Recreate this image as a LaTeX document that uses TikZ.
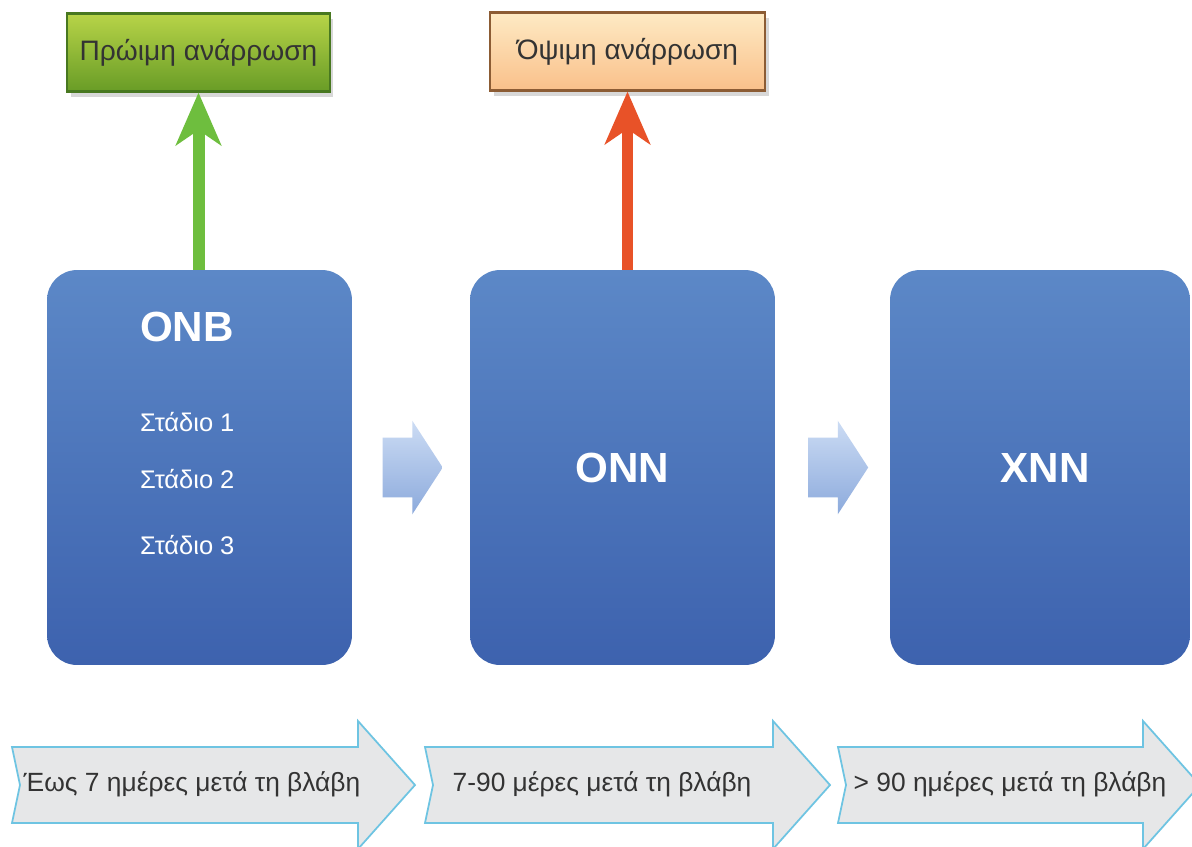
\documentclass[tikz,border=0pt]{standalone}
\usepackage{fontspec}
\setmainfont{Liberation Sans}
\usepackage{tikz}
\usetikzlibrary{positioning,arrows.meta,shapes.arrows,shadows,calc}
\definecolor{stagetop}{RGB}{92,136,199}
\definecolor{stagebot}{RGB}{61,98,174}
\definecolor{nexttop}{RGB}{204,220,244}
\definecolor{nextbot}{RGB}{140,170,220}
\definecolor{earlytop}{RGB}{184,212,72}
\definecolor{earlybot}{RGB}{104,156,38}
\definecolor{earlyline}{RGB}{72,120,32}
\definecolor{latetop}{RGB}{254,234,196}
\definecolor{latebot}{RGB}{249,192,138}
\definecolor{lateline}{RGB}{140,92,52}
\definecolor{riseg}{RGB}{110,190,62}
\definecolor{riseo}{RGB}{232,82,40}
\definecolor{periodfill}{RGB}{230,231,232}
\definecolor{periodline}{RGB}{110,196,226}
\tikzset{
  stagebox/.style={rounded corners=0.6cm,minimum width=6.1cm,minimum height=7.9cm,
            top color=stagetop,bottom color=stagebot,draw=none},
  stagetitle/.style={text=white,font=\fontsize{24}{28}\selectfont\bfseries},
  stageitem/.style={text=white,font=\fontsize{14.5}{17}\selectfont,anchor=west},
  outcome/.style={draw,line width=1.2pt,minimum height=1.56cm,text=black!80,
            font=\fontsize{16}{19}\selectfont,
            drop shadow={shadow xshift=2pt,shadow yshift=-3pt,opacity=0.3}},
  earlybox/.style={outcome,top color=earlytop,bottom color=earlybot,draw=earlyline,minimum width=5.26cm},
  latebox/.style={outcome,top color=latetop,bottom color=latebot,draw=lateline,minimum width=5.5cm},
  nextarrow/.style={single arrow,single arrow head extend=0.34cm,single arrow tip angle=114,
            minimum width=1.86cm,minimum height=1.2cm,inner xsep=0pt,inner ysep=0.59cm,
            top color=nexttop,bottom color=nextbot,draw=none},
  rise/.style={-{Stealth[length=1.05cm,width=0.9cm,inset=0.3cm]},line width=0.24cm},
  periodarrow/.style={fill=periodfill,draw=periodline,line width=1pt,line join=miter},
  periodtext/.style={text=black!80,font=\fontsize{15}{18}\selectfont},
}
% one period of the time line: name, left end, tip, text position, text
\newcommand{\period}[5]{%
  \draw[periodarrow] (#2,747) -- (#3-57,747) -- (#3-57,721) -- (#3,785)
        -- (#3-57,849) -- (#3-57,823) -- (#2,823) -- (#2+8,785) -- cycle;
  \node[periodtext] (#1) at (#4,784) {#5};
}

\begin{document}
\begin{tikzpicture}[x=0.02cm,y=-0.02cm]
  \useasboundingbox[fill=white] (0,0) rectangle (1192,846);

  % the three stages
  \node[stagebox] (onb) at (199.5,467.5) {};
  \node[stagebox] (onn) at (622.5,467.5) {};
  \node[stagebox,minimum width=6.0cm] (xnn) at (1040,467.5) {};

  \node[stagetitle] (onbtitle) at (187,327) {ONB};
  \node[stageitem] (st1) at (134,422) {Στάδιο 1};
  \node[stageitem] (st2) at (134,479) {Στάδιο 2};
  \node[stageitem] (st3) at (134,545) {Στάδιο 3};
  \node[stagetitle] (onntitle) at (onn) {ONN};
  \node[stagetitle] (xnntitle) at (1045,467.5) {XNN};

  \node[nextarrow] (next1) at ($(onb.east)!0.5!(onn.west)+(-8,0)$) {};
  \node[nextarrow] (next2) at ($(onn.east)!0.5!(xnn.west)+(-4,0)$) {};

  % recovery outcomes
  \node[earlybox] (early) at (198.5,52.5) {Πρώιμη ανάρρωση};
  \node[latebox] (late) at (627.5,51.5) {Όψιμη ανάρρωση};
  \draw[rise,riseg] (onb.north -| early.south) -- (early.south);
  \draw[rise,riseo,line width=0.21cm] (onn.north -| late.south) -- (late.south);

  % time line
  \period{p1}{12}{415}{192}{Έως 7 ημέρες μετά τη βλάβη}
  \period{p2}{425}{830}{602}{7-90 μέρες μετά τη βλάβη}
  \period{p3}{838}{1200}{1010}{> 90 ημέρες μετά τη βλάβη}
\end{tikzpicture}
\end{document}
